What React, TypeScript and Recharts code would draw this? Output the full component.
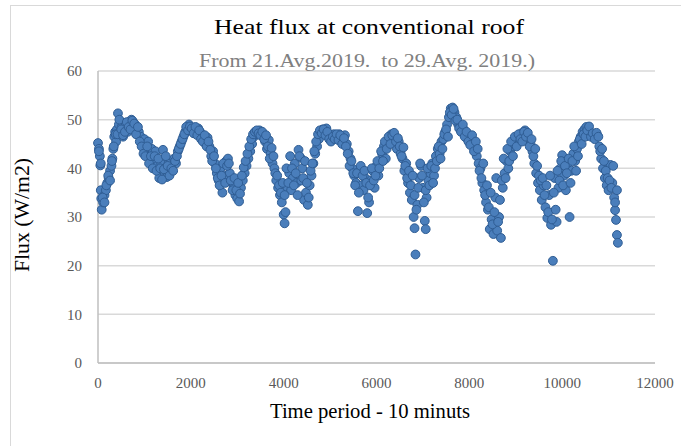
import React from 'react';
import { ScatterChart, Scatter, XAxis, YAxis, CartesianGrid } from 'recharts';

const timePeriod = [
  0, 20, 40, 50, 60, 70, 80, 110, 140, 170, 200, 230, 260, 290, 310, 330, 350, 370, 390, 410,
  430, 450, 480, 510, 540, 570, 600, 640, 680, 720, 760, 800, 840, 880, 920, 960, 1000, 1040, 1080, 1120,
  1160, 1200, 1240, 1280, 1320, 1360, 1400, 1440, 1480, 1520, 1560, 1600, 1640, 1680, 1720, 1760, 1800, 1840, 1880, 1920,
  1960, 2000, 2040, 2080, 2120, 2160, 2200, 2240, 2280, 2320, 2360, 2400, 2440, 2480, 2520, 2560, 2600, 2640, 2680, 2720,
  2760, 2800, 2840, 2880, 2920, 2960, 3000, 3040, 3080, 3120, 3160, 3200, 3240, 3280, 3320, 3360, 3400, 3440, 3480, 3520,
  3560, 3600, 3640, 3680, 3720, 3760, 3800, 3840, 3880, 3920, 3960, 4000, 4020, 4040, 4080, 4120, 4160, 4200, 4240, 4280,
  4320, 4360, 4400, 4440, 4480, 4520, 4560, 4600, 4640, 4680, 4720, 4760, 4800, 4840, 4880, 4920, 4960, 5000, 5040, 5080,
  5120, 5160, 5200, 5240, 5280, 5320, 5360, 5400, 5440, 5480, 5520, 5560, 5600, 5640, 5680, 5720, 5760, 5800, 5840, 5880,
  5920, 5960, 6000, 6040, 6080, 6120, 6160, 6200, 6240, 6280, 6320, 6360, 6400, 6440, 6480, 6520, 6560, 6600, 6640, 6680,
  6720, 6760, 6800, 6820, 6840, 6880, 6920, 6960, 7000, 7040, 7060, 7080, 7120, 7160, 7200, 7240, 7280, 7320, 7360, 7400,
  7440, 7480, 7520, 7560, 7600, 7640, 7680, 7720, 7760, 7800, 7840, 7880, 7920, 7960, 8000, 8040, 8080, 8120, 8160, 8200,
  8240, 8280, 8320, 8360, 8400, 8440, 8480, 8520, 8560, 8600, 8640, 8680, 8720, 8760, 8800, 8840, 8880, 8920, 8960, 9000,
  9040, 9080, 9120, 9160, 9200, 9240, 9280, 9320, 9360, 9400, 9440, 9480, 9520, 9560, 9600, 9640, 9680, 9720, 9760, 9800,
  9840, 9880, 9920, 9960, 10000, 10040, 10080, 10120, 10160, 10200, 10240, 10280, 10320, 10360, 10400, 10440, 10480, 10520, 10560, 10600,
  10640, 10680, 10720, 10760, 10800, 10840, 10880, 10920, 10960, 11000, 11040, 11080, 11120, 11140, 11160, 11180, 11200,
];

const flux = [
  45.2, 44, 42.5, 40.6, 35.5, 33.8, 31.5, 33, 34.5, 35.5, 37, 38, 39.5, 40.5, 42, 44, 46.5, 47.5, 45.5, 48,
  51.3, 49, 47, 48.5, 46.5, 48, 49, 47.5, 49.5, 50, 49.5, 49, 48, 47.5, 46.5, 45, 46, 44, 45.5, 42.5,
  44, 41.5, 43.5, 40.5, 38, 41, 43.8, 39, 38.2, 41, 39.5, 40.5, 42, 41, 43.5, 44.5, 45.5, 46.5, 47.5, 48,
  49, 48.5, 47.5, 48, 47, 48.2, 47.5, 46.5, 46, 45, 46.3, 44.5, 42.5, 43.5, 41, 39, 37.5, 40, 35, 38.5,
  41.5, 42, 39, 37, 36, 34.5, 33.8, 33.2, 36, 37.5, 39, 40.5, 42, 43.5, 45, 46.5, 47.5, 47, 47.8, 47.2,
  46.5, 45.5, 44, 45.8, 43, 41, 40, 37.5, 36, 34.5, 33, 30.5, 28.7, 31, 36, 39, 35.5, 38, 41, 37,
  43.8, 42.2, 40, 33.5, 35, 32.5, 36.5, 38.5, 41, 43, 44.5, 46, 47.5, 48, 47.8, 48.2, 47, 46.5, 45.8, 47,
  46.5, 46, 47, 46.2, 45.5, 46.8, 45, 43.5, 42, 40, 38.5, 37, 31.2, 39.5, 36.5, 35.5, 38, 30.8, 33, 37.5,
  39.5, 36, 40.5, 38.5, 41.5, 43, 44.5, 42, 45.5, 46, 47, 46.5, 45, 44, 45.5, 43, 42, 39.5, 41, 37,
  35, 33.5, 30, 27.7, 22.3, 32.5, 38, 40.5, 36, 29.2, 27.5, 34, 37.5, 39, 41, 38.5, 42.5, 44, 43, 45.5,
  46, 47.5, 49, 50.5, 52.3, 52.5, 51.5, 50.5, 49, 48.5, 47.5, 48, 47, 46, 45.5, 46, 45, 44.5, 42.5, 41,
  40, 37, 35.5, 33, 31.5, 27.5, 29.5, 26.5, 34, 27.2, 30, 25.7, 36, 39, 41.5, 40, 43.5, 44.5, 45, 46,
  45.5, 46.8, 47.2, 46.5, 47.8, 47, 46, 45, 43.5, 41, 39, 37, 35.5, 33.5, 36.5, 32, 29.8, 34.5, 28.4, 21,
  38, 29, 36, 40, 42.7, 38.5, 35.5, 41, 30, 39.5, 43, 41.5, 44, 45.5, 46.5, 47.5, 48, 48.5, 48.2, 47.2,
  46.8, 47, 46.5, 46.8, 44.5, 42, 40, 38, 36.5, 35.5, 40.7, 37, 34, 31.4, 29.4, 26.3, 24.7,
];

// readings in between, which give the cloud its width
const timePeriodB = [
  20, 60, 100, 140, 180, 220, 260, 300, 340, 380, 420, 460, 500, 540, 580, 620, 660, 700, 740, 780,
  820, 860, 900, 940, 980, 1020, 1060, 1100, 1140, 1180, 1220, 1260, 1300, 1340, 1380, 1420, 1460, 1500, 1540, 1580,
  1620, 1660, 1700, 1740, 1780, 1820, 1860, 1900, 1940, 1980, 2020, 2060, 2100, 2140, 2180, 2220, 2260, 2300, 2340, 2380,
  2420, 2460, 2500, 2540, 2580, 2620, 2660, 2700, 2740, 2780, 2820, 2860, 2900, 2940, 2980, 3020, 3060, 3100, 3140, 3180,
  3220, 3260, 3300, 3340, 3380, 3420, 3460, 3500, 3540, 3580, 3620, 3660, 3700, 3740, 3780, 3820, 3860, 3900, 3940, 3980,
  4020, 4060, 4100, 4140, 4180, 4220, 4260, 4300, 4340, 4380, 4420, 4460, 4500, 4540, 4580, 4620, 4660, 4700, 4740, 4780,
  4820, 4860, 4900, 4940, 4980, 5020, 5060, 5100, 5140, 5180, 5220, 5260, 5300, 5340, 5380, 5420, 5460, 5500, 5540, 5580,
  5620, 5660, 5700, 5740, 5780, 5820, 5860, 5900, 5940, 5980, 6020, 6060, 6100, 6140, 6180, 6220, 6260, 6300, 6340, 6380,
  6420, 6460, 6500, 6540, 6580, 6620, 6660, 6700, 6740, 6780, 6820, 6860, 6900, 6940, 6980, 7020, 7060, 7100, 7140, 7180,
  7220, 7260, 7300, 7340, 7380, 7420, 7460, 7500, 7540, 7580, 7620, 7660, 7700, 7740, 7780, 7820, 7860, 7900, 7940, 7980,
  8020, 8060, 8100, 8140, 8180, 8220, 8260, 8300, 8340, 8380, 8420, 8460, 8500, 8540, 8580, 8620, 8660, 8700, 8740, 8780,
  8820, 8860, 8900, 8940, 8980, 9020, 9060, 9100, 9140, 9180, 9220, 9260, 9300, 9340, 9380, 9420, 9460, 9500, 9540, 9580,
  9620, 9660, 9700, 9740, 9780, 9820, 9860, 9900, 9940, 9980, 10020, 10060, 10100, 10140, 10180, 10220, 10260, 10300, 10340, 10380,
  10420, 10460, 10500, 10540, 10580, 10620, 10660, 10700, 10740, 10780, 10820, 10860, 10900, 10940, 10980, 11020, 11060, 11100, 11140, 11180,
];

const fluxB = [
  43.5, 41, 34, 33, 36.5, 38.5, 37.5, 41.5, 44.5, 47, 47, 50, 48, 46.8, 47.5, 49.5, 48.5, 48, 49.8, 49.2,
  47, 48.5, 45.5, 44.5, 43, 42.5, 44.5, 41, 42.5, 40, 42.5, 39.5, 42, 40, 37.7, 39.8, 42.5, 40.5, 38.5, 40,
  39.5, 41.5, 42.5, 44, 45, 46, 47, 48.5, 47.8, 48.6, 48.2, 47.2, 48.5, 46.8, 47.8, 46, 45.5, 46.8, 44.5, 45.5,
  43.8, 41.5, 42.5, 40, 38, 36.5, 38.5, 41, 37, 40.5, 41, 37.5, 35.5, 38, 35.5, 37, 34.8, 38.5, 40.2, 41.5,
  43, 44.5, 46, 47, 47.5, 47.8, 47.2, 46.8, 47.5, 46, 46.8, 44.5, 42, 44.2, 42.5, 39, 38.5, 36.5, 35, 37,
  34.5, 40, 37, 42.5, 40, 36.5, 39, 34.5, 42.5, 37.5, 38, 41.5, 37, 34, 39.5, 41, 43.5, 45.5, 47, 47.8,
  47.2, 48, 46.8, 47.5, 46, 45.5, 46.5, 46, 47, 45.8, 46.8, 45, 46.2, 44.5, 43, 40.5, 41.5, 39, 36.5, 39,
  35, 40.5, 38.5, 39.5, 37, 34, 36.5, 40, 37.5, 38.5, 41.5, 40, 43.5, 41.5, 45.5, 44, 46.5, 45, 46.8, 47.3,
  45.5, 46.2, 44.5, 42.5, 44.3, 40.5, 38, 39.5, 36.5, 38.5, 34.5, 31.5, 36, 41, 38.5, 33, 35.5, 40, 36.5, 40.5,
  37, 40, 41.5, 44.5, 42, 44, 47, 48, 46.5, 51.5, 51, 52.2, 49.8, 50, 48.2, 47.5, 49, 46.5, 47.5, 45.5,
  44.8, 46.8, 43.5, 45.5, 44, 39.5, 38, 41, 34.5, 36.5, 32, 35, 28.5, 31, 38, 29, 33.5, 37.5, 42, 38,
  44, 41.5, 45.5, 42.5, 46.5, 44.5, 47, 46, 45.5, 47.5, 46.5, 47.3, 44.5, 46, 42.5, 44, 40.5, 38.5, 37.5, 38,
  34.5, 36.5, 31, 38.5, 29.5, 35, 31.5, 39.5, 37.5, 41.5, 36.5, 40.5, 39, 42, 37, 41.5, 44.5, 39.5, 42.5, 46,
  45, 47, 46.5, 47.8, 48.6, 46.5, 47.2, 46, 47.3, 46.5, 43.5, 44, 41.5, 39.5, 38, 37.5, 36, 40.5, 33, 35.5,
];

const xTicks = [0, 2000, 4000, 6000, 8000, 10000, 12000];
const yTicks = [0, 10, 20, 30, 40, 50, 60];

const points = [
  ...timePeriod.map((t, i) => ({ t, flux: flux[i] })),
  ...timePeriodB.map((t, i) => ({ t, flux: fluxB[i] })),
];

const serif = '"Liberation Serif", "Times New Roman", serif';

const Dot = (props: any) => (
  <circle cx={props.cx} cy={props.cy} r={4.4} fill="#4a7ebb" stroke="#2f5d94" strokeWidth={1} />
);

export default function App() {
  return (
    <div style={{ position: 'absolute', left: 0, top: 0, width: 681, height: 446, background: '#fff', overflow: 'hidden', fontFamily: serif }}>
      <div style={{ position: 'absolute', left: 10, top: 5, width: 700, height: 460, border: '1px solid #d9d9d9' }} />
      <ScatterChart width={681} height={446} margin={{ top: 71, right: 26, bottom: 53, left: 58 }} style={{ position: 'absolute', left: 0, top: 0 }}>
        <CartesianGrid horizontal vertical={false} stroke="#d9d9d9" strokeWidth={1.5} />
        <XAxis
          type="number"
          dataKey="t"
          domain={[0, 12000]}
          ticks={xTicks}
          height={30}
          tickLine={false}
          axisLine={{ stroke: '#bfbfbf', strokeWidth: 1.5 }}
          tick={{ fontSize: 15, fill: '#595959', fontFamily: serif }}
          tickMargin={8}
        />
        <YAxis
          type="number"
          dataKey="flux"
          domain={[0, 60]}
          ticks={yTicks}
          width={40}
          tickLine={false}
          axisLine={{ stroke: '#bfbfbf', strokeWidth: 1.5 }}
          tick={{ fontSize: 15, fill: '#595959', fontFamily: serif }}
          tickMargin={10}
        />
        <Scatter data={points} shape={<Dot />} isAnimationActive={false} />
      </ScatterChart>
      <svg width={681} height={446} style={{ position: 'absolute', left: 0, top: 0, pointerEvents: 'none' }} fontFamily={serif}>
        <text x={369} y={34} textAnchor="middle" fontSize={22} fill="#000" textLength={310} lengthAdjust="spacingAndGlyphs">
          Heat flux at conventional roof
        </text>
        <text x={367} y={67} textAnchor="middle" fontSize={19} fill="#808080" textLength={336} lengthAdjust="spacingAndGlyphs">
          {'From 21.Avg.2019.\u00a0\u00a0to 29.Avg. 2019.)'}
        </text>
        <text x={370} y={418} textAnchor="middle" fontSize={20} fill="#000" textLength={200} lengthAdjust="spacingAndGlyphs">
          Time period - 10 minuts
        </text>
        <text x={29} y={215} textAnchor="middle" fontSize={20} fill="#000" transform="rotate(-90 29 215)" textLength={114} lengthAdjust="spacingAndGlyphs">
          Flux (W/m2)
        </text>
      </svg>
    </div>
  );
}
